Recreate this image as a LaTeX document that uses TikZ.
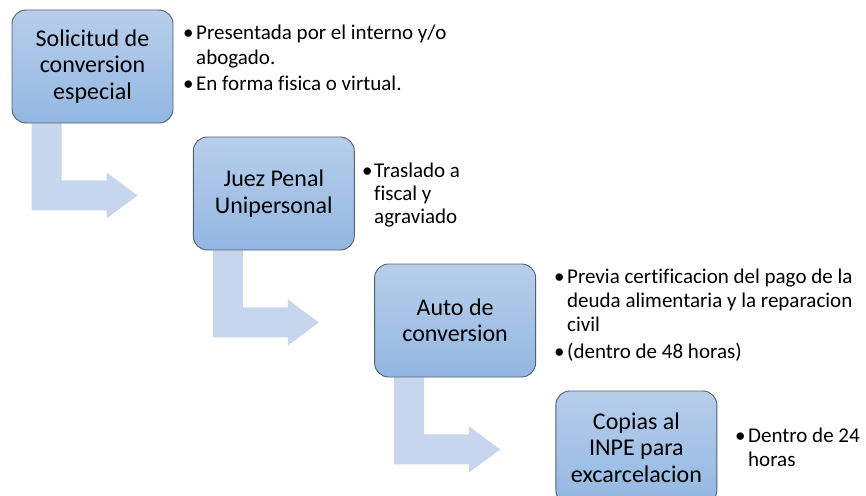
\documentclass[tikz,border=0pt]{standalone}
\usepackage{fontspec}
\setmainfont{Carlito}[Ligatures={NoCommon}]
\usetikzlibrary{calc,backgrounds}
\definecolor{boxtop}{RGB}{184,206,235}
\definecolor{boxbot}{RGB}{146,183,226}
\definecolor{boxline}{RGB}{85,95,110}
\definecolor{arrowc}{RGB}{199,214,236}
\tikzset{
  stagebox/.style={rectangle, rounded corners=14pt, minimum width=161pt, minimum height=113pt,
    inner sep=0pt, top color=boxtop, bottom color=boxbot, draw=boxline, line width=0.9pt,
    align=center, font=\fontsize{24pt}{26.5pt}\selectfont, text=black},
  bline/.style={anchor=base west, inner sep=0pt, font=\fontsize{21pt}{24pt}\selectfont, text=black},
  bdot/.style={anchor=base west, inner sep=0pt, font=\fontsize{21pt}{24pt}\selectfont, text=black},
  bentarrow/.style={fill=arrowc, draw=none}
}
\begin{document}
\begin{tikzpicture}[x=1pt,y=-1pt]
\clip (0,0) rectangle (866,495);
% boxes
\node[stagebox] (b1) at (92.5,66.5) {Solicitud de\\conversion\\especial};
\node[stagebox] (b2) at (273.8,193.5) {Juez Penal\\Unipersonal};
\node[stagebox] (b3) at (455.1,320.5) {Auto de\\conversion};
\node[stagebox] (b4) at (636.4,447.5) {Copias al\\INPE para\\excarcelacion};
% bent arrows
\begin{scope}[on background layer]
\fill[white] (0,0) rectangle (866,495);
\foreach \b in {b1,b2,b3}{
  \fill[bentarrow] ($(\b.south west)+(20,0)$) -- ++(0,87) -- ++(75,0) -- ++(0,8)
    -- ++(31,-23) -- ++(-31,-23) -- ++(0,8) -- ++(-45,0) -- ++(0,-57) -- cycle;
}
\end{scope}
% bullets box 1
\node[bdot] (d1a) at (183,40) {•};
\node[bline] (t1a) at (196,40) {Presentada por el interno y/o};
\node[bline] (t1b) at (196,64) {abogado.};
\node[bdot] (d1b) at (183,90) {•};
\node[bline] (t1c) at (196,90) {En forma fisica o virtual.};
% bullets box 2
\node[bdot] (d2a) at (362,177) {•};
\node[bline] (t2a) at (374,177) {Traslado a};
\node[bline] (t2b) at (374,200) {fiscal y};
\node[bline] (t2c) at (374,223) {agraviado};
% bullets box 3
\node[bdot] (d3a) at (554,283) {•};
\node[bline] (t3a) at (567,283) {Previa certificacion del pago de la};
\node[bline] (t3b) at (567,307) {deuda alimentaria y la reparacion};
\node[bline] (t3c) at (567,331) {civil};
\node[bdot] (d3b) at (554,358) {•};
\node[bline] (t3d) at (567,358) {(dentro de 48 horas)};
% bullets box 4
\node[bdot] (d4a) at (735,442) {•};
\node[bline] (t4a) at (748,442) {Dentro de 24};
\node[bline] (t4b) at (748,466) {horas};
\end{tikzpicture}
\end{document}
